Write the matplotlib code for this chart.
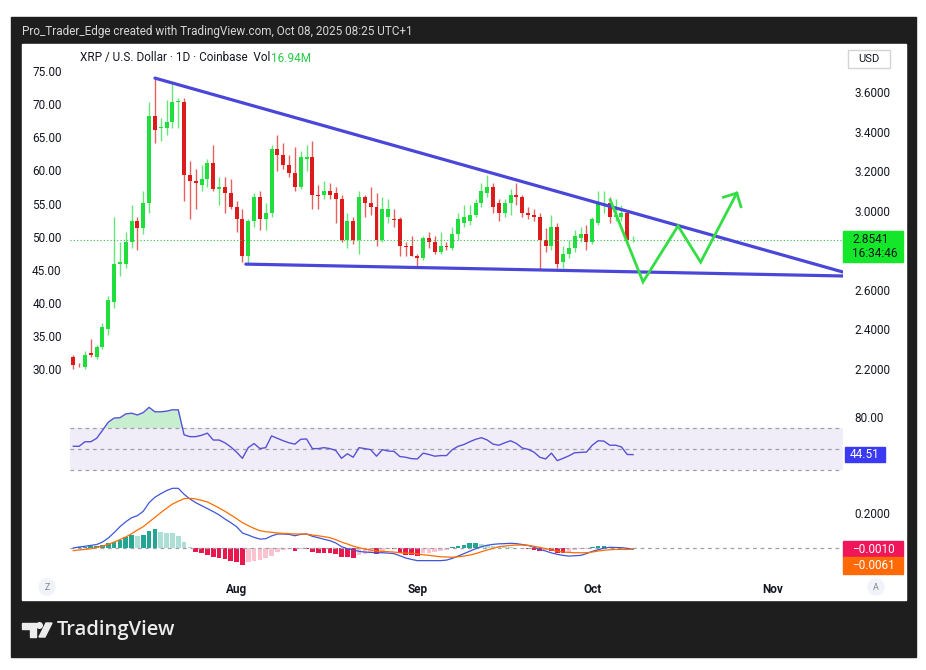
import numpy as np
import pandas as pd
import matplotlib
matplotlib.use("Agg")
import matplotlib.pyplot as plt
import matplotlib.dates as mdates
from matplotlib.patches import Rectangle, Circle, Polygon
from matplotlib.ticker import FormatStrFormatter

plt.rcParams['font.family'] = ['Roboto', 'DejaVu Sans']

W, H = 926, 670

# XRP / USD daily candles, 2025-07-04 .. 2025-10-08
start_date = "2025-07-04"
opens = [2.26, 2.22, 2.21, 2.28, 2.26, 2.31, 2.40, 2.54, 2.73, 2.73,
         2.84, 2.95, 2.91, 3.04, 3.48, 3.42, 3.42, 3.45, 3.55, 3.55,
         3.18, 3.15, 3.13, 3.16, 3.24, 3.11, 3.12, 3.09, 3.02, 2.96,
         2.77, 2.95, 3.07, 2.96, 2.99, 3.31, 3.28, 3.23, 3.19, 3.12,
         3.26, 3.27, 3.08, 3.08, 3.10, 3.09, 3.06, 2.85, 2.95, 2.85,
         3.07, 3.04, 3.02, 2.85, 2.97, 2.96, 2.96, 2.82, 2.82, 2.77,
         2.76, 2.86, 2.84, 2.79, 2.82, 2.81, 2.88, 2.94, 2.95, 2.98,
         3.04, 3.09, 3.12, 3.04, 2.99, 3.04, 3.08, 3.07, 2.99, 2.98,
         2.97, 2.85, 2.82, 2.92, 2.74, 2.78, 2.81, 2.86, 2.88, 2.84,
         2.94, 3.03, 3.04, 2.97, 2.97, 2.99, 2.85]
highs = [2.27, 2.23, 2.29, 2.35, 2.32, 2.43, 2.57, 2.97, 2.84, 2.89,
         3.03, 2.97, 3.10, 3.55, 3.67, 3.47, 3.56, 3.64, 3.57, 3.57,
         3.25, 3.21, 3.23, 3.26, 3.33, 3.17, 3.17, 3.16, 3.05, 3.01,
         2.96, 3.09, 3.10, 3.04, 3.33, 3.38, 3.34, 3.28, 3.32, 3.30,
         3.33, 3.35, 3.13, 3.15, 3.14, 3.12, 3.08, 2.99, 2.97, 3.10,
         3.08, 3.12, 3.09, 3.07, 3.06, 3.01, 2.97, 2.84, 2.87, 2.78,
         2.87, 2.89, 2.87, 2.89, 2.84, 2.92, 2.99, 3.03, 3.03, 3.06,
         3.14, 3.18, 3.14, 3.06, 3.06, 3.11, 3.14, 3.08, 3.02, 3.01,
         2.99, 2.91, 2.98, 2.94, 2.82, 2.85, 2.90, 2.92, 2.93, 2.97,
         3.10, 3.10, 3.07, 3.06, 3.03, 3.00, 2.87]
lows = [2.20, 2.21, 2.20, 2.26, 2.25, 2.30, 2.37, 2.51, 2.67, 2.71,
        2.81, 2.80, 2.88, 2.99, 3.34, 3.35, 3.38, 3.42, 3.42, 3.05,
        2.96, 3.01, 3.10, 3.12, 3.10, 3.03, 2.99, 3.01, 2.89, 2.74,
        2.73, 2.92, 2.90, 2.90, 2.97, 3.20, 3.21, 3.17, 3.10, 3.11,
        3.20, 3.01, 3.01, 3.06, 3.06, 2.94, 2.84, 2.81, 2.83, 2.78,
        2.97, 2.98, 2.82, 2.84, 2.94, 2.92, 2.77, 2.77, 2.77, 2.71,
        2.75, 2.81, 2.78, 2.78, 2.80, 2.80, 2.85, 2.92, 2.93, 2.97,
        3.02, 3.07, 2.99, 2.95, 2.97, 2.98, 3.03, 2.97, 2.96, 2.95,
        2.70, 2.79, 2.80, 2.71, 2.71, 2.76, 2.79, 2.84, 2.80, 2.83,
        2.93, 2.99, 2.94, 2.95, 2.95, 2.84, 2.84]
closes = [2.22, 2.218, 2.27, 2.27, 2.31, 2.41, 2.55, 2.73, 2.74, 2.84,
          2.95, 2.91, 3.04, 3.48, 3.41, 3.425, 3.45, 3.55, 3.555, 3.18,
          3.15, 3.14, 3.16, 3.24, 3.11, 3.12, 3.09, 3.02, 2.96, 2.77,
          2.95, 3.07, 2.96, 2.99, 3.31, 3.28, 3.23, 3.19, 3.12, 3.27,
          3.27, 3.08, 3.075, 3.10, 3.08, 3.06, 2.85, 2.95, 2.85, 3.07,
          3.04, 3.02, 2.85, 3.01, 3.01, 2.955, 2.82, 2.815, 2.77, 2.76,
          2.86, 2.84, 2.79, 2.82, 2.815, 2.88, 2.96, 2.97, 2.98, 3.04,
          3.10, 3.12, 3.02, 2.99, 3.04, 3.08, 3.07, 2.99, 2.98, 2.97,
          2.85, 2.82, 2.92, 2.73, 2.78, 2.81, 2.87, 2.88, 2.84, 2.96,
          3.04, 3.035, 2.97, 2.98, 2.99, 2.85, 2.8541]

rsi = [52.4, 52.4, 56.7, 56.7, 59.9, 67.4, 75.2, 79.1, 79.4, 83.0,
       83.7, 82.0, 84.3, 89.2, 85.0, 85.0, 85.6, 86.9, 86.9, 63.2,
       61.5, 61.5, 62.8, 64.8, 58.3, 58.3, 55.7, 51.8, 46.9, 41.0,
       51.1, 55.0, 50.2, 51.1, 62.2, 59.9, 57.6, 55.7, 54.4, 59.0,
       59.3, 50.2, 50.2, 51.1, 50.2, 48.5, 41.0, 45.3, 42.0, 51.1,
       50.2, 49.2, 43.0, 49.2, 47.9, 47.6, 42.7, 42.0, 40.7, 40.4,
       45.9, 44.6, 43.0, 43.6, 43.6, 49.2, 52.4, 54.1, 56.7, 59.0,
       60.5, 58.3, 54.4, 53.4, 55.7, 57.6, 55.0, 50.8, 49.5, 46.9,
       42.0, 40.4, 45.9, 38.8, 41.0, 43.4, 46.3, 46.6, 46.9, 53.4,
       57.6, 57.3, 53.4, 53.4, 51.8, 44.6, 44.51]

macd = [0.000, 0.006, 0.010, 0.015, 0.020, 0.034, 0.057, 0.088, 0.122, 0.150,
        0.173, 0.185, 0.210, 0.259, 0.290, 0.310, 0.328, 0.341, 0.341, 0.307,
        0.280, 0.259, 0.242, 0.225, 0.208, 0.189, 0.166, 0.145, 0.122, 0.086,
        0.074, 0.061, 0.051, 0.053, 0.069, 0.080, 0.080, 0.078, 0.070, 0.078,
        0.080, 0.067, 0.059, 0.050, 0.042, 0.029, 0.008, -0.004, -0.011, -0.019,
        -0.023, -0.025, -0.027, -0.027, -0.029, -0.032, -0.044, -0.057, -0.065, -0.072,
        -0.072, -0.072, -0.072, -0.072, -0.069, -0.059, -0.046, -0.032, -0.018, -0.004,
        0.008, 0.016, 0.021, 0.024, 0.025, 0.027, 0.025, 0.020, 0.015, 0.004,
        -0.008, -0.017, -0.028, -0.036, -0.042, -0.046, -0.044, -0.042, -0.032, -0.019,
        -0.010, 0.000, 0.004, 0.003, 0.002, -0.002, -0.0071]
signal = [-0.015, -0.011, -0.008, -0.004, 0.004, 0.011, 0.021, 0.034, 0.048, 0.063,
          0.082, 0.103, 0.122, 0.149, 0.175, 0.202, 0.227, 0.251, 0.267, 0.282,
          0.284, 0.280, 0.272, 0.263, 0.246, 0.229, 0.210, 0.189, 0.168, 0.145,
          0.128, 0.112, 0.099, 0.093, 0.090, 0.086, 0.084, 0.082, 0.080, 0.080,
          0.080, 0.074, 0.070, 0.065, 0.059, 0.048, 0.034, 0.023, 0.011, 0.002,
          -0.006, -0.011, -0.017, -0.019, -0.021, -0.023, -0.027, -0.029, -0.030, -0.034,
          -0.038, -0.042, -0.046, -0.050, -0.051, -0.053, -0.050, -0.046, -0.040, -0.032,
          -0.021, -0.011, -0.002, 0.008, 0.011, 0.015, 0.017, 0.017, 0.015, 0.010,
          0.004, -0.004, -0.011, -0.017, -0.023, -0.025, -0.027, -0.027, -0.027, -0.023,
          -0.017, -0.013, -0.010, -0.008, -0.008, -0.008, -0.0061]
hist = [0.002, 0.004, 0.006, 0.010, 0.013, 0.017, 0.027, 0.036, 0.046, 0.061,
        0.072, 0.070, 0.074, 0.099, 0.107, 0.093, 0.088, 0.084, 0.070, 0.036,
        0.008, -0.021, -0.030, -0.038, -0.050, -0.059, -0.065, -0.072, -0.078, -0.097,
        -0.078, -0.072, -0.069, -0.059, -0.044, -0.021, -0.011, -0.008, -0.017, -0.004,
        -0.006, -0.025, -0.030, -0.030, -0.030, -0.036, -0.050, -0.053, -0.059, -0.040,
        -0.034, -0.030, -0.036, -0.027, -0.008, -0.008, -0.030, -0.040, -0.042, -0.044,
        -0.030, -0.027, -0.023, -0.019, -0.011, 0.008, 0.011, 0.017, 0.027, 0.030,
        0.023, 0.017, 0.011, 0.008, 0.006, 0.004, 0.002, -0.002, -0.004, -0.011,
        -0.017, -0.013, -0.017, -0.030, -0.030, -0.021, -0.011, -0.008, -0.006, 0.008,
        0.011, 0.013, 0.008, 0.006, 0.004, 0.000, -0.0010]

# drawn lines (triangle + projected path)
upper_x = ["2025-07-18 00:00", "2025-11-13 00:00"]
upper_y = [3.67, 2.69]
lower_x = ["2025-08-02 14:00", "2025-11-13 00:00"]
lower_y = [2.73, 2.67]
path_x = ["2025-10-04 02:00", "2025-10-09 17:00", "2025-10-15 17:00",
          "2025-10-19 14:00", "2025-10-25 19:00"]
path_y = [3.054, 2.64, 2.923, 2.74, 3.089]
arrow_x = ["2025-10-23 12:00", "2025-10-25 19:00", "2025-10-26 12:00"]
arrow_y = [3.068, 3.089, 3.02]

price_ticks = [2.2, 2.4, 2.6, 3.0, 3.2, 3.4, 3.6]
left_ticks = [30, 35, 40, 45, 50, 55, 60, 65, 70, 75]
month_ticks = ["2025-08-01", "2025-09-01", "2025-10-01", "2025-11-01"]
month_labels = ["Aug", "Sep", "Oct", "Nov"]

GREEN = '#22dd3e'
RED = '#dc1c1c'
TXT = '#131722'

fig = plt.figure(figsize=(W / 100, H / 100), dpi=100)
fig.patch.set_facecolor('white')


def px_axes(x0, y0, x1, y1, **kw):
    return fig.add_axes([x0 / W, 1 - y1 / H, (x1 - x0) / W, (y1 - y0) / H], **kw)


def to_num(vals):
    return mdates.date2num(pd.to_datetime(vals))


# background frame
bg = px_axes(0, 0, W, H, zorder=0)
bg.set_xlim(0, W)
bg.set_ylim(H, 0)
bg.axis('off')
bg.add_patch(Rectangle((11, 17), 905, 640, color='#1e1e1e'))
bg.add_patch(Rectangle((22, 44), 884, 556, color='white'))
bg.text(22, 32, "Pro_Trader_Edge created with TradingView.com, Oct 08, 2025 08:25 UTC+1",
        color='#d6d6d6', fontsize=8.5, va='center')
# logo
bg.add_patch(Polygon([(22, 623), (36, 623), (36, 637), (30, 637), (30, 629), (22, 629)],
                     closed=True, color='#ececec'))
bg.add_patch(Circle((39.5, 625.5), 2.8, color='#ececec'))
bg.add_patch(Polygon([(39, 637), (45, 637), (52, 623), (46, 623)], closed=True, color='#ececec'))
bg.text(57, 630, "TradingView", color='#ececec', fontsize=14.5, fontweight='semibold',
        family=['Open Sans', 'DejaVu Sans'], va='center')
for cx, letter in [(47, "Z"), (876, "A")]:
    bg.add_patch(Circle((cx, 587), 8, color='#f0f3fa'))
    bg.text(cx, 587, letter, color='#888888', fontsize=6.5, ha='center', va='center')

x = to_num(pd.date_range(start_date, periods=len(closes), freq="D"))
x_lim = (x[0] - 0.566, x[0] + 132.0)

# price pane
ax = px_axes(70, 47, 843, 392, zorder=2)
ax.patch.set_alpha(0)
o, h, l, c = map(np.array, (opens, highs, lows, closes))
cols = np.where(c >= o, GREEN, RED)
ax.vlines(x, l, h, colors=cols, lw=1, alpha=0.7)
ax.bar(x, np.maximum(np.abs(c - o), 0.004), width=0.68, bottom=np.minimum(o, c),
       color=cols, lw=0)
ax.axhline(closes[-1], color='#30c040', lw=0.8, ls=(0, (1, 2)))
ax.plot(to_num(upper_x), upper_y, color='#4a46d8', lw=2.3, solid_capstyle='round')
ax.plot(to_num(lower_x), lower_y, color='#4a46d8', lw=2.3, solid_capstyle='round')
ax.plot(to_num(path_x), path_y, color='#33dd44', lw=2, solid_joinstyle='miter')
ax.plot(to_num(arrow_x), arrow_y, color='#33dd44', lw=2)
ax.set_xlim(*x_lim)
ax.set_ylim(2.0838, 3.8271)
ax.yaxis.tick_right()
ax.set_yticks(price_ticks)
ax.yaxis.set_major_formatter(FormatStrFormatter('%.4f'))
ax.tick_params(axis='y', length=0, pad=8, labelsize=8.5, labelcolor=TXT)
ax.tick_params(axis='x', bottom=False, labelbottom=False)
for s in ax.spines.values():
    s.set_visible(False)


def to_left(p):
    return 30 + (p - 2.2) * 29.9


def from_left(v):
    return 2.2 + (v - 30) / 29.9


sec = ax.secondary_yaxis('left', functions=(to_left, from_left))
sec.set_yticks(left_ticks)
sec.yaxis.set_major_formatter(FormatStrFormatter('%.2f'))
sec.tick_params(length=0, pad=6, labelsize=8.5, labelcolor=TXT)
sec.spines['left'].set_visible(False)

# RSI pane
ax_r = px_axes(70, 395, 843, 480, zorder=2)
ax_r.patch.set_alpha(0)
r = np.array(rsi)
ax_r.axhspan(30, 70, color='#7e57c2', alpha=0.1, lw=0)
for lvl in (70, 50, 30):
    ax_r.axhline(lvl, color='#a0a0a8', lw=0.9, ls=(0, (3, 3)))
ax_r.fill_between(x, r, 70, where=r > 70, interpolate=True, color='#5fcf78', alpha=0.35, lw=0)
ax_r.plot(x, r, color='#5552d6', lw=1)
ax_r.set_xlim(*x_lim)
ax_r.set_ylim(20.5, 100.9)
ax_r.yaxis.tick_right()
ax_r.set_yticks([80])
ax_r.yaxis.set_major_formatter(FormatStrFormatter('%.2f'))
ax_r.tick_params(axis='y', length=0, pad=8, labelsize=8.5, labelcolor=TXT)
ax_r.tick_params(axis='x', bottom=False, labelbottom=False)
for s in ax_r.spines.values():
    s.set_visible(False)

# MACD pane
ax_m = px_axes(70, 482, 843, 575, zorder=2)
ax_m.patch.set_alpha(0)
hv = np.array(hist)
prev = np.concatenate([[0], hv[:-1]])
hcols = np.where(hv >= 0, np.where(hv >= prev, '#22a693', '#addfd7'),
                 np.where(hv <= prev, '#e8184f', '#fbc3cf'))
ax_m.axhline(0, color='#a0a0a8', lw=0.9, ls=(0, (3, 3)))
ax_m.bar(x, hv, width=0.8, color=hcols, lw=0)
ax_m.plot(x, macd, color='#3f55d8', lw=0.9)
ax_m.plot(x, signal, color='#ff6d00', lw=0.9)
ax_m.set_xlim(*x_lim)
ax_m.set_ylim(-0.154, 0.377)
ax_m.yaxis.tick_right()
ax_m.set_yticks([0.2])
ax_m.yaxis.set_major_formatter(FormatStrFormatter('%.4f'))
ax_m.tick_params(axis='y', length=0, pad=8, labelsize=8.5, labelcolor=TXT)
ax_m.set_xticks(to_num(month_ticks))
ax_m.set_xticklabels(month_labels, fontweight='semibold')
ax_m.tick_params(axis='x', length=0, pad=6, labelsize=8.5, labelcolor=TXT)
for s in ax_m.spines.values():
    s.set_visible(False)

# foreground labels, in pixel space
fg = px_axes(0, 0, W, H, zorder=5)
fg.set_xlim(0, W)
fg.set_ylim(H, 0)
fg.axis('off')
fg.patch.set_alpha(0)


def pix_y(a, val):
    return H - a.transData.transform((x[0], val))[1]


title = fg.text(80, 58, "XRP / U.S. Dollar · 1D · Coinbase  Vol", color=TXT,
                fontsize=8.5, va='center')
rend = fig.canvas.get_renderer()
bb = title.get_window_extent(rend)
fg.text(bb.x1 + 1, 58, "16.94M", color='#22cc44', fontsize=8.5, va='center')

fg.add_patch(Rectangle((848, 50), 42, 18, facecolor='white', edgecolor='#d4d4d8', lw=1))
fg.text(869, 59, "USD", color=TXT, fontsize=8, ha='center', va='center')

py = pix_y(ax, closes[-1])
fg.add_patch(Rectangle((843, py - 9), 60, 31, color='#14e629'))
fg.text(852, py, "%.4f" % closes[-1], color=TXT, fontsize=8.5, va='center')
fg.text(852, py + 14, "16:34:46", color=TXT, fontsize=8.5, va='center')

ry = pix_y(ax_r, rsi[-1])
fg.add_patch(Rectangle((845, ry - 7.5), 40, 15, color='#3a3af5'))
fg.text(865, ry, "%.2f" % rsi[-1], color='white', fontsize=8.5, ha='center', va='center')

my = pix_y(ax_m, hist[-1])
fg.add_patch(Rectangle((843, my - 7), 60, 16, color='#f0165a'))
fg.text(873, my + 1, "\u2212%.4f" % abs(hist[-1]), color='white', fontsize=8.5,
        ha='center', va='center')
fg.add_patch(Rectangle((843, my + 9), 60, 17, color='#ff6a06'))
fg.text(873, my + 17.5, "\u2212%.4f" % abs(signal[-1]), color='white', fontsize=8.5,
        ha='center', va='center')

fig.savefig("out.png", dpi=100)
